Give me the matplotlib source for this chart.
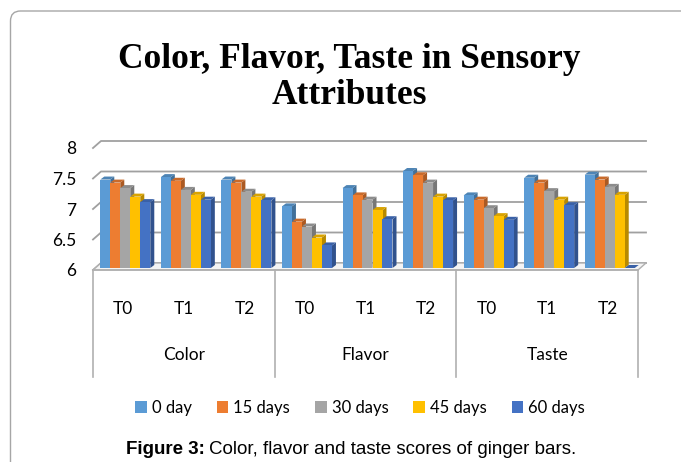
import numpy as np
import matplotlib.pyplot as plt
from matplotlib.patches import Polygon, FancyBboxPatch, Rectangle
from matplotlib.colors import to_rgb

# data
attributes = ['Color', 'Flavor', 'Taste']
treatments = ['T0', 'T1', 'T2']
series = ['0 day', '15 days', '30 days', '45 days', '60 days']
day0 = [7.45, 7.49, 7.45, 7.01, 7.31, 7.59, 7.19, 7.48, 7.53]
day15 = [7.40, 7.43, 7.40, 6.76, 7.19, 7.52, 7.12, 7.40, 7.45]
day30 = [7.31, 7.28, 7.25, 6.68, 7.12, 7.40, 6.98, 7.26, 7.33]
day45 = [7.17, 7.20, 7.17, 6.50, 6.95, 7.17, 6.85, 7.12, 7.20]
day60 = [7.08, 7.12, 7.11, 6.37, 6.80, 7.11, 6.79, 7.03, 0.0]
colors = ['#5B9BD5', '#ED7D31', '#A5A5A5', '#FFC000', '#4472C4']

values = [day0, day15, day30, day45, day60]
ymin, ymax = 6, 8

W, H = 681, 462
fig = plt.figure(figsize=(W / 100, H / 100), dpi=100)

# frame around the chart
frame = FancyBboxPatch((0.105, -0.5), 8.0, 5.01, boxstyle='round,pad=0,rounding_size=0.1',
                       transform=fig.dpi_scale_trans, fill=False, ec='#a6a6a6', lw=1.0)
fig.patches.append(frame)

# plot area in pixels
x0, x1 = 93, 638
y6, y8 = 270, 148
ax = fig.add_axes([x0 / W, (H - y6) / H, (x1 - x0) / W, (y6 - y8) / H])
n = len(day0)
ax.set_xlim(-0.5, n - 0.5)
ax.set_ylim(ymin, ymax)
for s in ax.spines.values():
    s.set_visible(False)

ux = (n) / (x1 - x0)          # x units per pixel
uy = (ymax - ymin) / (y6 - y8)  # y units per pixel

grid_c = '#a0a0a0'
dxg, dyg = 8 * ux, 7 * uy
# back wall gridlines with the depth diagonal
for v in np.arange(ymin, ymax + 0.01, 0.5):
    ax.plot([-0.5, -0.5 + dxg, n - 0.5 + dxg], [v, v + dyg, v + dyg],
            color=grid_c, lw=1.3, clip_on=False, zorder=1)
# floor
floor = Polygon([(-0.5, ymin), (n - 0.5, ymin), (n - 0.5 + dxg, ymin + dyg),
                 (-0.5 + dxg, ymin + dyg)], closed=True, fc='#f4f4f4',
                ec='#b0b0b0', lw=1.0, clip_on=False, zorder=1.5)
ax.add_patch(floor)

# bars with a fake 3d side and top
bw = 10 * ux
dxb, dyb = 4 * ux, 3 * uy
offx, offy = 2 * ux, 2 * uy
x = np.arange(n)


def shade(c, f):
    r, g, b = to_rgb(c)
    return (r * f, g * f, b * f)


for k, (vals, c) in enumerate(zip(values, colors)):
    xs = x + (k - 2) * bw + offx
    h = np.maximum(np.array(vals), ymin) - ymin
    z = 2 + k
    ax.bar(xs, h, width=bw, bottom=ymin + offy, color=c, zorder=z + 0.3, clip_on=False)
    for xi, hi in zip(xs, h):
        top = ymin + offy + hi
        xl, xr = xi - bw / 2, xi + bw / 2
        side = Polygon([(xr, ymin + offy), (xr + dxb, ymin + offy + dyb),
                        (xr + dxb, top + dyb), (xr, top)], closed=True,
                       fc=shade(c, 0.72), ec='none', zorder=z + 0.1, clip_on=False)
        lid = Polygon([(xl, top), (xr, top), (xr + dxb, top + dyb), (xl + dxb, top + dyb)],
                      closed=True, fc=shade(c, 0.85), ec='none', zorder=z + 0.2, clip_on=False)
        ax.add_patch(side)
        ax.add_patch(lid)

# front baseline and category separators
ax.plot([-0.5, n - 0.5], [ymin, ymin], color='#b0b0b0', lw=1.2, clip_on=False, zorder=20)
y_sep = ymin - (377 - y6) * uy
for xs in [-0.5, 2.5, 5.5, 8.5]:
    ax.plot([xs, xs], [ymin, y_sep], color='#b0b0b0', lw=1.2, clip_on=False, zorder=20)

tick_font = dict(family=['Lato', 'DejaVu Sans'], size=12.5)
ax.set_yticks(np.arange(ymin, ymax + 0.01, 0.5))
ax.set_yticklabels(['6', '6.5', '7', '7.5', '8'], **tick_font)
ax.set_xticks(x)
ax.set_xticklabels(treatments * 3, **tick_font)
ax.tick_params(axis='y', length=0, pad=12)
ax.tick_params(axis='x', length=0, pad=22)

for i, name in enumerate(attributes):
    ax.text(3 * i + 1, ymin - (355 - y6) * uy, name, ha='center', va='center', **tick_font)

# title
fig.text(349 / W, (H - 77) / H, 'Color, Flavor, Taste in Sensory\nAttributes',
         ha='center', va='center', family='Liberation Serif', weight='bold',
         size=25.5, linespacing=1.12)

# legend
handles = [Rectangle((0, 0), 1, 1, fc=c, ec='none') for c in colors]
fig.legend(handles, series, loc='center', bbox_to_anchor=(360 / W, (H - 408) / H),
           ncol=5, frameon=False, handlelength=0.7, handleheight=0.7,
           handletextpad=0.3, columnspacing=1.5,
           prop={'family': ['Lato', 'DejaVu Sans'], 'size': 12})

# caption
yc = (H - 449) / H
fig.text(205 / W, yc, 'Figure 3:', ha='right', va='center', family='Liberation Sans',
         weight='bold', size=13.5)
fig.text(209 / W, yc, 'Color, flavor and taste scores of ginger bars.', ha='left',
         va='center', family='Liberation Sans', size=13.5)

fig.savefig('out.png', dpi=100)
